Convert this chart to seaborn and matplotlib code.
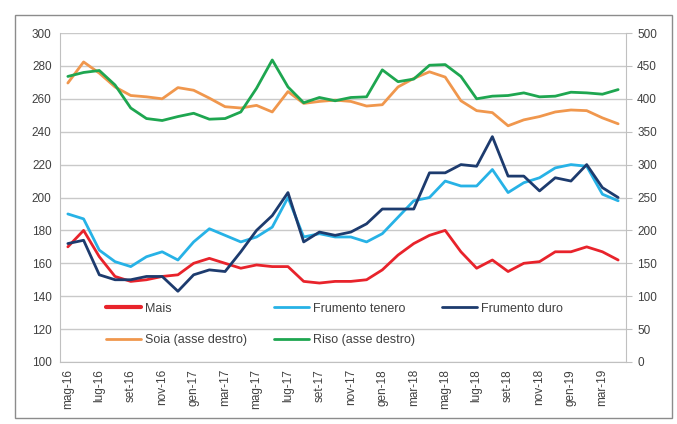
import pandas as pd
import matplotlib
matplotlib.use("Agg")
import matplotlib.pyplot as plt
import seaborn as sns
from matplotlib.patches import Rectangle

# monthly prices, May 2016 - Apr 2019
mesi = ["mag-16", "giu-16", "lug-16", "ago-16", "set-16", "ott-16", "nov-16", "dic-16",
        "gen-17", "feb-17", "mar-17", "apr-17", "mag-17", "giu-17", "lug-17", "ago-17",
        "set-17", "ott-17", "nov-17", "dic-17", "gen-18", "feb-18", "mar-18", "apr-18",
        "mag-18", "giu-18", "lug-18", "ago-18", "set-18", "ott-18", "nov-18", "dic-18",
        "gen-19", "feb-19", "mar-19", "apr-19"]

mais = [170, 180, 164, 152, 149, 150, 152, 153, 160, 163, 160, 157, 159, 158, 158, 149,
        148, 149, 149, 150, 156, 165, 172, 177, 180, 167, 157, 162, 155, 160, 161, 167,
        167, 170, 167, 162]
tenero = [190, 187, 168, 161, 158, 164, 167, 162, 173, 181, 177, 173, 176, 182, 200, 176,
          178, 176, 176, 173, 178, 188, 198, 200, 210, 207, 207, 217, 203, 209, 212, 218,
          220, 219, 202, 198]
duro = [172, 174, 153, 150, 150, 152, 152, 143, 153, 156, 155, 167, 180, 189, 203, 173,
        179, 177, 179, 184, 193, 193, 193, 215, 215, 220, 219, 237, 213, 213, 204, 212,
        210, 220, 206, 200]
# right axis
soia = [424, 456, 439, 418, 405, 403, 400, 417, 413, 401, 388, 386, 390, 380, 411, 393,
        396, 398, 396, 389, 391, 418, 431, 441, 433, 397, 382, 379, 359, 368, 373, 380,
        383, 382, 371, 362]
riso = [434, 440, 443, 421, 386, 370, 367, 373, 378, 369, 370, 380, 416, 459, 418, 394,
        402, 397, 402, 403, 444, 426, 430, 451, 452, 434, 400, 404, 405, 409, 403, 404,
        410, 409, 407, 414]

sinistra = pd.DataFrame({"mese": mesi * 3,
                         "prezzo": mais + tenero + duro,
                         "serie": ["Mais"] * 36 + ["Frumento tenero"] * 36 + ["Frumento duro"] * 36})
destra = pd.DataFrame({"mese": mesi * 2,
                       "prezzo": soia + riso,
                       "serie": ["Soia (asse destro)"] * 36 + ["Riso (asse destro)"] * 36})

colori = {"Mais": "#e8232b", "Frumento tenero": "#27b2e6", "Frumento duro": "#1d3b6e",
          "Soia (asse destro)": "#f0974d", "Riso (asse destro)": "#1ea650"}

sns.set_style("white")
plt.rcParams["font.family"] = ["Liberation Sans", "DejaVu Sans"]

fig = plt.figure(figsize=(6.77, 4.24), dpi=100)
ax = fig.add_axes([60 / 677, 1 - 362 / 424, 566 / 677, 329 / 424])
ax2 = ax.twinx()

sns.lineplot(data=sinistra, x="mese", y="prezzo", hue="serie", palette=colori,
             linewidth=2, ax=ax, legend=False, sort=False)
sns.lineplot(data=destra, x="mese", y="prezzo", hue="serie", palette=colori,
             linewidth=2, ax=ax2, legend=False, sort=False)

ax.set_ylim(100, 300)
ax.set_yticks(range(100, 301, 20))
ax2.set_ylim(0, 500)
ax2.set_yticks(range(0, 501, 50))
ax.set_xlim(-0.5, 35.5)
ax.set_xticks(range(0, 36, 2))
ax.set_xticklabels(mesi[::2], rotation=90)
ax.set_xticks([i + 0.5 for i in range(-1, 36)], minor=True)
ax.set_xlabel(None)
ax.set_ylabel(None)
ax2.set_ylabel(None)

ax.grid(axis="y", color="#c9c9c9", linewidth=1)
ax.set_axisbelow(True)
for a in (ax, ax2):
    for s in a.spines.values():
        s.set_visible(False)
ax.spines["left"].set_visible(True)
ax.spines["left"].set_color("#c0c0c0")
ax.spines["bottom"].set_visible(True)
ax.spines["bottom"].set_color("#c0c0c0")
ax2.spines["right"].set_visible(True)
ax2.spines["right"].set_color("#c0c0c0")

ax.tick_params(axis="y", labelsize=8.5, colors="#404040", length=0, pad=6)
ax.tick_params(axis="x", which="major", labelsize=8.5, colors="#404040", length=0, pad=5)
ax.tick_params(axis="x", which="minor", length=4, color="#c0c0c0")
ax2.tick_params(axis="y", labelsize=8.5, colors="#404040", length=4, color="#c0c0c0", pad=4)

ordine = ["Mais", "Soia (asse destro)", "Frumento tenero", "Riso (asse destro)", "Frumento duro"]
maniglie = [plt.Line2D([], [], color=colori[n], linewidth=3 if n == "Mais" else 2) for n in ordine]
ax.legend(maniglie, ordine, ncol=3, frameon=False, fontsize=9,
          loc="upper left", bbox_to_anchor=(0.061, 0.215), handlelength=2.8,
          handletextpad=0.3, columnspacing=2.2, labelspacing=1.55,
          labelcolor="#404040")

fig.patches.append(Rectangle((15 / 677, 6 / 424), 657 / 677, 403 / 424,
                             transform=fig.transFigure, fill=False,
                             edgecolor="#8c8c8c", linewidth=1))

plt.savefig("out.png", dpi=100)
